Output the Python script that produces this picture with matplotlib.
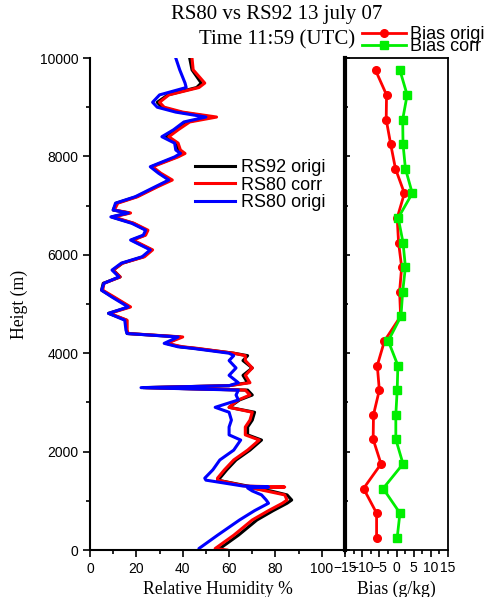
import matplotlib
matplotlib.use("Agg")
import matplotlib.pyplot as plt
from matplotlib.ticker import MultipleLocator

plt.rcParams["font.family"] = "Liberation Sans"

# RH profiles (height in m, relative humidity in %)
height = [0, 30, 300, 610, 800, 950, 1016, 1120, 1200, 1260, 1280, 1300, 1420, 1460,
          1630, 1830, 2030, 2235, 2340, 2500, 2640, 2800, 2900, 3050, 3150, 3250,
          3300, 3340, 3400, 3550, 3700, 3850, 3950, 4000, 4100, 4130, 4200, 4330,
          4400, 4470, 4670, 4810, 4940, 5140, 5280, 5420, 5550, 5690, 5830, 5960,
          6100, 6300, 6400, 6500, 6640, 6770, 6850, 6910, 7050, 7180, 7380, 7520,
          7660, 7790, 7990, 8060, 8130, 8270, 8400, 8540, 8700, 8800, 8900, 9000,
          9100, 9250, 9400, 9490, 9760, 10000]
rs92_origi = [57, 56, 64, 72, 79, 85, 87, 85, 78, 70, 70, 68, 55, 56,
              59, 63, 69, 74, 68, 68, 70, 71, 60, 64.5, 70, 68,
              23, 60, 68, 66, 70, 66, 68, 62, 45, 39, 33, 39,
              16, 15.8, 15.8, 8, 17, 10, 5, 5.7, 13, 10, 14, 23,
              26.5, 18, 23.7, 24.3, 18.7, 9.4, 17, 10, 11.4, 20, 28.6, 34.4,
              30, 26.5, 37.4, 40, 38, 37.4, 33, 37.4, 41.6, 52.5, 38.7, 31,
              29, 33.6, 46, 48, 44, 43]
rs80_corr = [59, 54, 62, 70, 77, 83, 85, 84, 76, 70, 84, 67, 55, 55,
             58, 62, 68, 73, 67, 67, 69, 70, 60, 64, 69, 67,
             24, 60, 69, 67, 70, 67, 67, 62, 46, 40, 33, 40,
             16.5, 16, 16, 8.5, 17.5, 10.5, 5.5, 6, 13, 10, 14, 23.5,
             27, 18.5, 24, 25, 19, 10, 17.5, 10.5, 12, 20.5, 29, 35.5,
             30.5, 27, 38, 41, 39, 38, 34, 38, 43, 54.6, 40, 32,
             30, 34, 47, 49.5, 44.5, 44]
rs80_origi = [47, 47, 55, 64.5, 71, 77, 76, 74, 70, 68, 77, 66, 50, 49.5,
              53, 56, 62, 65, 60, 60, 61, 60, 54, 64, 63, 64,
              22, 60, 64, 60, 63, 60, 62, 60, 44, 38, 32, 38,
              16, 15.5, 15, 8, 16.5, 9.5, 5, 6, 12.5, 9.5, 13.5, 22.5,
              26, 17.5, 23, 24, 18, 9, 16.5, 10, 11, 19.5, 28, 34,
              29.5, 26, 36.5, 39, 37, 36.5, 31, 36, 40.5, 50, 37, 29,
              27, 30, 41.5, 41, 38.7, 37]

# bias profiles (g/kg)
bias_height = [250, 750, 1250, 1750, 2250, 2750, 3250, 3750, 4250, 4750,
               5250, 5750, 6250, 6750, 7250, 7750, 8250, 8750, 9250, 9750]
bias_origi = [-5.8, -5.8, -9.6, -4.5, -6.8, -6.7, -5.0, -5.6, -3.5, 1.2,
              0.9, 1.5, 0.6, 0.2, 2.3, -0.3, -1.7, -3.0, -2.9, -6.1]
bias_corr = [0.2, 1.0, -3.9, 1.9, -0.2, -0.2, 0.2, 0.4, -2.4, 1.3,
             1.8, 2.6, 1.9, 0.5, 4.6, 2.6, 1.9, 1.8, 3.1, 1.0]

fig = plt.figure(figsize=(4.85, 5.97), dpi=100)
ax1 = fig.add_axes([90 / 485, 47 / 597, 255 / 485, 492 / 597])
ax2 = fig.add_axes([345 / 485, 47 / 597, 103 / 485, 492 / 597], sharey=ax1)

# left panel: RH profiles
ax1.plot(rs92_origi, height, color="black", lw=2.2, label="RS92 origi")
ax1.plot(rs80_corr, height, color="red", lw=2.2, label="RS80 corr")
ax1.plot(rs80_origi, height, color="blue", lw=2.2, label="RS80 origi")
ax1.set_xlim(0, 110)
ax1.set_ylim(0, 10000)
ax1.set_xticks([0, 20, 40, 60, 80, 100])
ax1.xaxis.set_minor_locator(MultipleLocator(10))
ax1.yaxis.set_major_locator(MultipleLocator(2000))
ax1.yaxis.set_minor_locator(MultipleLocator(1000))
ax1.spines["top"].set_visible(False)
ax1.spines["right"].set_visible(False)
ax1.spines["left"].set_linewidth(1.5)
ax1.spines["bottom"].set_linewidth(1.5)
ax1.tick_params(which="major", length=5, width=1.2, labelsize=10)
ax1.tick_params(which="minor", length=3, width=1.2)
ax1.set_xlabel("Relative Humidity %", family="Liberation Serif", fontsize=12.7, labelpad=4)
ax1.set_ylabel("Heigt (m)", family="Liberation Serif", fontsize=12.7, labelpad=8)
fig.legend(handles=ax1.get_lines(), loc="center left", bbox_to_anchor=(0.402, 0.69),
           frameon=False, fontsize=13, handlelength=2.2, handletextpad=0.35,
           labelspacing=0.02, borderpad=0, borderaxespad=0)

# right panel: bias
ax2.plot(bias_origi, bias_height, color="red", lw=2, marker="o", ms=5.5, label="Bias origi")
ax2.plot(bias_corr, bias_height, color="#00ee00", lw=2, marker="s", ms=5.5, label="Bias corr")
ax2.set_xlim(-15, 15)
ax2.set_xticks([-15, -10, -5, 0, 5, 10, 15])
ax2.xaxis.set_minor_locator(MultipleLocator(2.5))
ax2.spines["left"].set_linewidth(3)
for s in ["top", "right", "bottom"]:
    ax2.spines[s].set_linewidth(1.3)
ax2.tick_params(axis="y", which="both", direction="in", labelleft=False, width=1.2)
ax2.tick_params(axis="x", which="major", length=5, width=1.2, labelsize=10, pad=3)
ax2.tick_params(axis="x", which="minor", length=3, width=1.2)
ax2.set_xlabel("Bias (g/kg)", family="Liberation Serif", fontsize=12.7, labelpad=4)
fig.legend(handles=ax2.get_lines(), loc="center left", bbox_to_anchor=(0.747, 0.932),
           frameon=False, fontsize=13, handlelength=2.4, handletextpad=0.25,
           labelspacing=-0.3, borderpad=0, borderaxespad=0)

fig.text(0.571, 0.975, "RS80 vs RS92 13 july 07", ha="center", va="center",
         family="Liberation Serif", fontsize=15)
fig.text(0.571, 0.933, "Time 11:59 (UTC)", ha="center", va="center",
         family="Liberation Serif", fontsize=15)

fig.savefig("out.png", dpi=100)
